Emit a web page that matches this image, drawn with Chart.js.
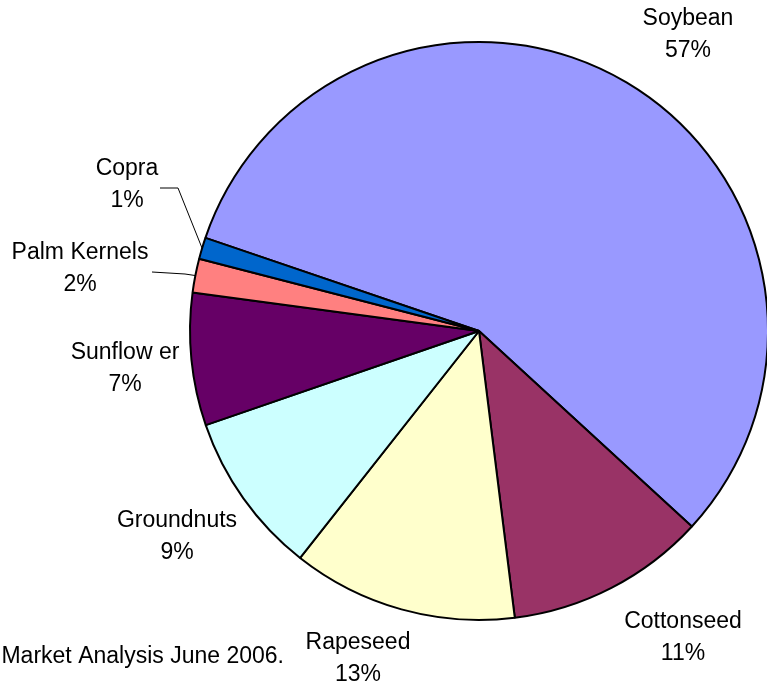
<!DOCTYPE html>
<html>
<head>
<meta charset="utf-8">
<title>Oilseed meal production</title>
<script src="https://cdn.jsdelivr.net/npm/chart.js@4/dist/chart.umd.min.js"></script>
<style>
  html, body { margin: 0; padding: 0; background: #fff; overflow: hidden; }
  #wrap { position: absolute; left: 0; top: 0; width: 800px; height: 685px; }
</style>
</head>
<body>
<div id="wrap"><canvas id="pie" width="800" height="685"></canvas></div>
<script>
// Share of world oilmeal production by seed (percent)
const seeds = ['Soybean', 'Cottonseed', 'Rapeseed', 'Groundnuts', 'Sunflower', 'Palm Kernels', 'Copra'];
const shares = [56.6, 11.2, 12.6, 9.1, 7.4, 1.9, 1.2];
const sliceColors = ['#9999FF', '#993366', '#FFFFCC', '#CCFFFF', '#660066', '#FF8080', '#0066CC'];
const sourceNote = 'Market Analysis June 2006.';

// where each category label sits (centre x, first line y) and which ones get a leader line
const labelPos = [[688, 19], [683, 622], [358, 643], [177, 521], [125, 353], [80, 253], [127, 169]];
const labelText = ['Soybean', 'Cottonseed', 'Rapeseed', 'Groundnuts', 'Sunflow er', 'Palm Kernels', 'Copra'];
const leaders = { 5: [[152, 272], [185, 274]], 6: [[160, 188], [178, 188]] };

const FONT = '23px "Liberation Sans", Arial, sans-serif';

const pieLabels = {
    id: 'pieLabels',
    afterDraw(chart) {
        const ctx = chart.ctx;
        const meta = chart.getDatasetMeta(0);
        const total = shares.reduce((a, b) => a + b, 0);
        ctx.save();
        ctx.font = FONT;
        ctx.fillStyle = '#000';
        ctx.textAlign = 'center';
        ctx.textBaseline = 'middle';
        meta.data.forEach((arc, i) => {
            const pct = Math.round(shares[i] / total * 100) + '%';
            const [x, y] = labelPos[i];
            ctx.fillText(labelText[i], x, y);
            ctx.fillText(pct, x, y + 32);

            if (leaders[i]) {
                // leader line runs to the middle of the slice's outer edge
                const mid = (arc.startAngle + arc.endAngle) / 2;
                const ex = arc.x + Math.cos(mid) * arc.outerRadius;
                const ey = arc.y + Math.sin(mid) * arc.outerRadius;
                ctx.beginPath();
                ctx.lineWidth = 1;
                ctx.strokeStyle = '#000';
                ctx.moveTo(leaders[i][0][0], leaders[i][0][1]);
                ctx.lineTo(leaders[i][1][0], leaders[i][1][1]);
                ctx.lineTo(ex, ey);
                ctx.stroke();
            }
        });

        ctx.textAlign = 'right';
        ctx.fillText(sourceNote, 284, 657);
        ctx.restore();
    }
};

new Chart(document.getElementById('pie'), {
    type: 'pie',
    data: {
        labels: seeds,
        datasets: [{
            data: shares,
            backgroundColor: sliceColors,
            borderColor: '#000',
            borderWidth: 2
        }]
    },
    options: {
        responsive: false,
        animation: false,
        rotation: -71.2,
        layout: { padding: { left: 189, top: 41, right: 31, bottom: 64 } },
        plugins: {
            legend: { display: false },
            tooltip: { enabled: false }
        }
    },
    plugins: [pieLabels]
});
</script>
</body>
</html>
